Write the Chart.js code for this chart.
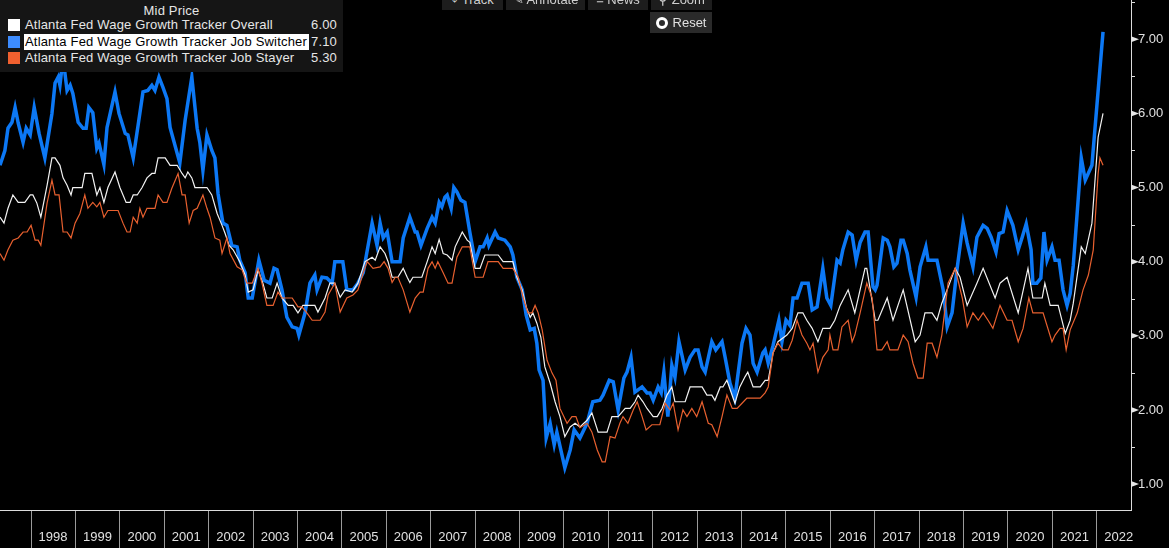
<!DOCTYPE html>
<html>
<head>
<meta charset="utf-8">
<script src="https://cdn.jsdelivr.net/npm/chart.js@4.4.1/dist/chart.umd.min.js"></script>
<style>
  body { margin: 0; background: #000; font-family: "Liberation Sans", Arial, sans-serif; }
  #wrap { position: relative; width: 1169px; height: 548px; overflow: hidden; background: #000; }
  #grafica { position: absolute; left: 0; top: 0; }
  #leyenda { position: absolute; left: 0; top: 0; width: 343px; height: 72px; background: #151515; color: #e6e6e6; font-size: 13px; letter-spacing: 0.18px; }
  #leyenda .titulo { position: absolute; left: 0; width: 343px; top: 3px; text-align: center; }
  #leyenda .fila { position: absolute; left: 0; width: 343px; height: 16px; line-height: 16px; }
  #leyenda .cuadro { position: absolute; left: 8px; top: 2px; width: 12px; height: 12px; }
  #leyenda .nombre { position: absolute; left: 24px; padding-left: 1px; }
  #leyenda .valor { position: absolute; right: 6px; }
  #leyenda .activa .nombre { background: #fff; color: #000; padding-right: 2px; }
  .boton { position: absolute; height: 20px; line-height: 20px; background: #1d1d1d; color: #cfcfcf; font-size: 13px; text-align: center; }
</style>
</head>
<body>
<div id="wrap">
  <canvas id="grafica" width="1169" height="548"></canvas>
  <div class="boton" style="left:442px; top:-10px; width:61px;">&#8982; Track</div>
  <div class="boton" style="left:506px; top:-10px; width:79px;">&#9998; Annotate</div>
  <div class="boton" style="left:588px; top:-10px; width:60px;">&#8801; News</div>
  <div class="boton" style="left:651px; top:-10px; width:61px;">&#9906; Zoom</div>
  <div class="boton" style="left:650px; top:12px; width:62px; height:21px; line-height:21px; background:#2a2a2a; color:#e0e0e0;">
    <span style="display:inline-block; width:6px; height:6px; border:3px solid #fff; border-radius:50%; vertical-align:-2px; margin-right:5px;"></span>Reset
  </div>
  <div id="leyenda">
    <div class="titulo">Mid Price</div>
    <div class="fila" style="top:17px;"><div class="cuadro" style="background:#ffffff"></div><span class="nombre">Atlanta Fed Wage Growth Tracker Overall</span><span class="valor">6.00</span></div>
    <div class="fila activa" style="top:34px;"><div class="cuadro" style="background:#3d8cff"></div><span class="nombre">Atlanta Fed Wage Growth Tracker Job Switcher</span><span class="valor">7.10</span></div>
    <div class="fila" style="top:50px;"><div class="cuadro" style="background:#f0602f"></div><span class="nombre">Atlanta Fed Wage Growth Tracker Job Stayer</span><span class="valor">5.30</span></div>
  </div>
</div>
<script>
// Años (decimales) y valores
const anios = [1998,1999,2000,2001,2002,2003,2004,2005,2006,2007,2008,2009,2010,2011,2012,2013,2014,2015,2016,2017,2018,2019,2020,2021,2022];
const valoresEjeY = [1,2,3,4,5,6,7];
const marcasMenores = [1.5,2.5,3.5,4.5,5.5,6.5,7.5];

const switcherFechas = [1997.30,1997.41,1997.48,1997.57,1997.64,1997.71,1997.82,1997.89,1997.98,1998.07,1998.18,1998.31,1998.47,1998.54,1998.61,1998.65,1998.72,1998.81,1998.88,1998.94,
  1999.06,1999.17,1999.24,1999.30,1999.39,1999.48,1999.53,1999.64,1999.71,1999.89,1999.98,2000.12,2000.18,2000.30,2000.41,2000.52,2000.63,2000.72,2000.79,2000.88,2000.97,
  2001.06,2001.13,2001.24,2001.35,2001.47,2001.62,2001.74,2001.80,2001.87,2001.96,2002.07,2002.14,2002.21,2002.32,2002.41,2002.52,2002.64,2002.70,2002.82,2002.89,2002.98,
  2003.13,2003.25,2003.38,2003.47,2003.54,2003.65,2003.76,2003.88,2003.99,2004.03,2004.17,2004.28,2004.39,2004.44,2004.55,2004.66,2004.78,2004.84,2005.02,2005.11,2005.25,
  2005.36,2005.48,2005.68,2005.79,2005.86,2005.93,2006.02,2006.13,2006.31,2006.38,2006.53,2006.65,2006.69,2006.78,2006.92,2007.03,2007.10,2007.19,2007.25,2007.32,2007.37,
  2007.46,2007.52,2007.59,2007.68,2007.77,2007.88,2008.00,2008.11,2008.18,2008.27,2008.31,2008.45,2008.52,2008.67,2008.79,2008.85,2008.94,2009.06,2009.15,2009.24,2009.33,
  2009.39,2009.44,2009.53,2009.60,2009.69,2009.78,2009.84,2010.02,2010.14,2010.23,2010.36,2010.52,2010.65,2010.81,2010.88,2011.02,2011.11,2011.22,2011.35,2011.42,2011.51,
  2011.60,2011.76,2011.87,2011.94,2012.01,2012.12,2012.19,2012.25,2012.34,2012.43,2012.50,2012.59,2012.73,2012.84,2012.95,2013.02,2013.11,2013.18,2013.33,2013.42,2013.56,
  2013.63,2013.74,2013.85,2014.01,2014.10,2014.19,2014.26,2014.35,2014.48,2014.53,2014.60,2014.71,2014.84,2014.91,2015.00,2015.09,2015.16,2015.25,2015.36,2015.50,2015.59,
  2015.70,2015.83,2015.92,2016.01,2016.15,2016.22,2016.28,2016.40,2016.49,2016.58,2016.67,2016.78,2016.85,2016.96,2017.01,2017.05,2017.19,2017.28,2017.34,2017.43,2017.50,
  2017.59,2017.64,2017.73,2017.79,2017.93,2018.02,2018.15,2018.20,2018.31,2018.40,2018.54,2018.63,2018.74,2018.85,2018.99,2019.08,2019.21,2019.30,2019.44,2019.53,2019.62,
  2019.73,2019.80,2019.89,2019.98,2020.11,2020.23,2020.32,2020.41,2020.52,2020.56,2020.65,2020.74,2020.81,2020.88,2020.99,2021.06,2021.15,2021.24,2021.33,2021.40,2021.47,
  2021.65,2021.74,2021.89,2022.14];
const switcherValores = [5.30,5.50,5.80,5.88,6.08,5.87,5.61,5.80,5.71,6.08,5.73,5.40,6.00,6.41,6.49,6.38,6.75,6.31,6.38,6.27,
  5.88,5.80,5.80,6.08,6.01,5.53,5.60,5.31,5.81,6.29,6.00,5.73,5.71,5.40,5.84,6.29,6.31,6.38,6.31,6.49,6.35,
  6.20,5.81,5.57,5.33,5.91,6.49,5.80,5.61,5.23,5.71,5.50,5.40,4.92,4.52,4.49,4.22,4.20,4.02,3.85,3.51,3.51,
  4.02,3.75,3.71,3.91,3.89,3.62,3.25,3.12,3.10,3.01,3.31,3.71,3.82,3.62,3.79,3.78,3.71,4.00,4.00,3.62,3.62,
  3.71,3.85,4.52,4.22,4.52,4.32,4.40,4.00,4.00,4.32,4.60,4.40,4.40,4.22,4.45,4.60,4.52,4.80,4.74,4.87,4.90,
  4.72,5.00,4.94,4.83,4.80,4.40,4.00,4.20,4.20,4.32,4.22,4.40,4.32,4.29,4.20,4.09,3.79,3.62,3.28,3.08,3.10,
  2.90,2.54,2.40,1.62,1.82,1.53,1.70,1.22,1.46,1.73,1.62,1.82,2.11,2.13,2.20,2.40,2.38,2.00,2.43,2.51,2.71,
  2.24,2.31,2.23,2.23,2.13,2.31,2.23,2.51,1.91,2.60,2.44,2.92,2.54,2.71,2.81,2.81,2.58,2.51,2.92,2.81,2.92,
  2.71,2.36,2.16,2.90,3.10,3.01,2.63,2.51,2.77,2.81,2.63,2.87,3.21,2.92,3.21,3.14,3.51,3.51,3.71,3.71,3.35,
  3.39,3.91,3.51,3.41,4.02,3.98,4.16,4.40,4.36,4.02,4.26,4.40,4.40,3.66,3.62,3.68,4.32,4.29,4.20,3.93,3.98,
  4.29,4.29,4.11,3.89,3.52,3.93,4.20,4.02,4.02,4.02,3.62,3.12,3.31,3.89,4.52,4.25,3.93,4.33,4.49,4.45,4.33,
  4.13,4.38,4.40,4.69,4.49,4.16,4.33,4.51,4.16,3.71,3.71,3.78,4.40,4.02,4.20,4.02,4.02,3.62,3.41,3.57,3.95,
  5.40,5.10,5.30,7.10];

const overallFechas = [1997.30,1997.39,1997.48,1997.59,1997.71,1997.86,1997.98,1998.04,1998.13,1998.22,1998.36,1998.47,1998.54,1998.65,1998.72,1998.81,1998.90,1998.94,1999.15,1999.21,
  1999.37,1999.48,1999.55,1999.64,1999.73,1999.89,2000.00,2000.14,2000.23,2000.30,2000.39,2000.50,2000.61,2000.72,2000.79,2000.86,2001.02,2001.13,2001.29,2001.40,2001.47,
  2001.53,2001.62,2001.69,2001.96,2002.07,2002.19,2002.30,2002.37,2002.46,2002.55,2002.70,2002.82,2002.89,2003.00,2003.11,2003.22,2003.31,2003.43,2003.54,2003.65,2003.79,
  2003.90,2004.01,2004.12,2004.39,2004.46,2004.62,2004.73,2004.84,2004.96,2005.07,2005.23,2005.36,2005.52,2005.68,2005.75,2005.86,2005.97,2006.04,2006.13,2006.26,2006.38,
  2006.47,2006.53,2006.60,2006.80,2006.92,2007.03,2007.10,2007.19,2007.28,2007.37,2007.48,2007.55,2007.71,2007.82,2007.88,2008.00,2008.11,2008.22,2008.52,2008.63,2008.85,
  2008.94,2009.06,2009.15,2009.24,2009.30,2009.39,2009.48,2009.57,2009.69,2009.80,2009.91,2010.02,2010.14,2010.25,2010.36,2010.52,2010.63,2010.77,2010.97,2011.08,2011.22,
  2011.38,2011.49,2011.60,2011.67,2011.78,2011.87,2012.01,2012.10,2012.21,2012.32,2012.43,2012.50,2012.73,2012.84,2013.11,2013.22,2013.33,2013.40,2013.52,2013.58,2013.67,
  2013.85,2013.96,2014.08,2014.14,2014.26,2014.42,2014.53,2014.60,2014.71,2014.82,2015.02,2015.14,2015.27,2015.38,2015.47,2015.59,2015.72,2015.83,2015.99,2016.10,2016.22,
  2016.40,2016.55,2016.78,2016.82,2017.01,2017.07,2017.28,2017.41,2017.64,2017.91,2018.02,2018.13,2018.29,2018.40,2018.51,2018.63,2018.81,2018.92,2019.08,2019.30,2019.44,
  2019.71,2019.82,2019.98,2020.23,2020.45,2020.56,2020.77,2020.83,2020.95,2021.13,2021.29,2021.40,2021.47,2021.65,2021.74,2021.89,2022.03,2022.14];
const overallValores = [4.60,4.52,4.72,4.90,4.80,4.80,4.90,4.90,4.79,4.60,5.03,5.40,5.40,5.30,5.13,5.03,4.90,5.00,5.00,5.19,
  5.19,4.90,5.00,4.80,5.00,5.21,5.00,4.80,4.80,4.90,4.90,5.00,5.13,5.19,5.19,5.40,5.40,5.30,5.30,5.19,5.13,
  5.21,5.13,5.00,5.00,4.90,4.65,4.49,4.38,4.22,4.16,4.00,3.82,3.59,3.62,3.89,3.71,3.51,3.51,3.71,3.51,3.41,
  3.41,3.31,3.41,3.41,3.32,3.51,3.71,3.71,3.52,3.62,3.59,3.71,4.00,4.06,4.02,4.20,4.11,4.00,3.79,3.79,3.91,
  3.79,3.72,3.79,3.79,4.00,4.20,4.11,4.30,4.11,4.09,4.02,4.20,4.40,4.29,4.26,3.91,3.91,4.09,4.09,4.00,4.00,
  3.79,3.62,3.39,3.25,3.31,3.17,2.98,2.58,2.36,2.11,1.91,1.64,1.77,1.82,1.77,1.86,1.96,1.70,1.70,1.91,1.91,
  2.02,2.02,2.11,2.20,2.11,2.02,1.91,1.91,2.02,2.20,2.31,2.11,2.11,2.31,2.31,2.20,2.20,2.13,2.31,2.31,2.40,
  2.09,2.31,2.45,2.51,2.31,2.31,2.40,2.40,2.77,2.92,3.01,3.10,3.31,3.31,3.21,3.10,2.92,3.10,3.10,3.21,3.41,
  3.62,3.31,3.91,3.91,3.21,3.21,3.51,3.21,3.62,2.92,3.01,3.31,3.31,3.21,3.44,3.62,3.91,3.79,3.41,3.71,3.91,
  3.51,3.71,3.79,3.31,3.91,3.51,3.51,3.71,3.41,3.41,3.03,3.21,3.44,4.20,4.11,4.52,5.68,6.00];

const stayerFechas = [1997.30,1997.39,1997.48,1997.59,1997.71,1997.82,1997.91,1998.00,1998.09,1998.16,1998.22,1998.36,1998.47,1998.54,1998.63,1998.72,1998.81,1998.90,1998.99,1999.10,
  1999.21,1999.28,1999.39,1999.48,1999.55,1999.64,1999.73,1999.96,2000.07,2000.16,2000.23,2000.30,2000.39,2000.45,2000.52,2000.61,2000.79,2000.86,2000.97,2001.06,2001.17,
  2001.31,2001.40,2001.47,2001.56,2001.65,2001.74,2001.87,2001.96,2002.03,2002.14,2002.25,2002.30,2002.41,2002.48,2002.64,2002.75,2002.86,2002.98,2003.11,2003.20,2003.31,
  2003.45,2003.56,2003.65,2003.88,2004.01,2004.10,2004.21,2004.33,2004.51,2004.62,2004.69,2004.84,2004.96,2005.11,2005.25,2005.36,2005.48,2005.57,2005.70,2005.86,2005.95,
  2006.04,2006.13,2006.20,2006.26,2006.38,2006.53,2006.65,2006.76,2006.83,2006.94,2007.03,2007.10,2007.16,2007.28,2007.39,2007.48,2007.59,2007.71,2007.88,2008.00,2008.18,
  2008.29,2008.52,2008.63,2008.85,2008.97,2009.08,2009.19,2009.28,2009.35,2009.42,2009.51,2009.62,2009.73,2009.82,2009.91,2010.07,2010.18,2010.27,2010.36,2010.52,2010.63,
  2010.75,2010.86,2010.93,2011.04,2011.15,2011.26,2011.33,2011.44,2011.56,2011.65,2011.76,2011.85,2011.98,2012.16,2012.28,2012.39,2012.46,2012.57,2012.68,2012.77,2012.88,
  2012.99,2013.11,2013.25,2013.33,2013.45,2013.56,2013.67,2013.79,2013.90,2014.01,2014.12,2014.30,2014.42,2014.53,2014.60,2014.71,2014.82,2014.93,2015.05,2015.14,2015.25,
  2015.36,2015.47,2015.54,2015.61,2015.72,2015.83,2015.95,2015.99,2016.06,2016.17,2016.26,2016.40,2016.49,2016.55,2016.67,2016.82,2016.94,2017.05,2017.16,2017.28,2017.34,
  2017.52,2017.64,2017.75,2017.86,2017.97,2018.09,2018.18,2018.29,2018.40,2018.51,2018.65,2018.81,2018.97,2019.08,2019.21,2019.33,2019.44,2019.55,2019.66,2019.82,2019.98,
  2020.09,2020.23,2020.34,2020.47,2020.56,2020.79,2020.99,2021.06,2021.17,2021.24,2021.31,2021.40,2021.56,2021.69,2021.81,2021.92,2022.03,2022.07,2022.14];
const stayerValores = [4.11,4.02,4.16,4.29,4.32,4.40,4.40,4.49,4.29,4.29,4.22,4.79,5.10,4.90,4.90,4.40,4.40,4.32,4.52,4.65,
  4.90,4.72,4.80,4.74,4.80,4.60,4.69,4.69,4.52,4.40,4.40,4.60,4.52,4.72,4.60,4.72,4.72,4.90,4.80,4.80,4.99,
  5.19,4.90,4.90,4.52,4.69,4.72,4.90,4.72,4.60,4.32,4.29,4.11,4.32,4.11,3.93,3.89,3.71,3.71,3.91,3.71,3.41,
  3.41,3.59,3.51,3.51,3.39,3.39,3.31,3.21,3.21,3.32,3.55,3.71,3.32,3.51,3.55,3.62,3.85,4.00,3.91,3.93,4.00,
  3.91,3.72,3.79,3.79,3.62,3.32,3.51,3.59,3.59,3.91,4.00,3.91,4.00,3.85,3.71,3.71,4.06,4.20,4.20,3.79,3.79,
  4.00,4.00,3.91,3.91,3.79,3.52,3.31,3.31,3.41,3.31,3.08,2.67,2.50,2.40,2.02,1.82,1.91,1.91,1.76,1.82,1.70,
  1.46,1.30,1.30,1.64,1.62,1.82,1.91,1.82,2.00,2.11,1.91,1.73,1.80,1.80,2.09,2.00,2.09,1.73,2.00,1.91,2.02,
  1.91,2.11,1.82,1.80,1.64,1.91,2.20,2.02,2.02,2.09,2.16,2.16,2.16,2.23,2.31,2.77,2.90,2.81,2.81,2.94,3.21,
  3.01,2.90,2.81,2.90,2.51,2.71,2.81,3.01,2.81,2.81,3.12,3.21,2.92,3.01,3.31,3.71,3.51,2.81,2.81,2.92,2.81,
  2.81,3.01,2.92,2.63,2.43,2.43,2.90,2.90,2.71,3.01,3.71,3.91,3.51,3.12,3.31,3.21,3.31,3.21,3.10,3.41,3.21,
  3.21,2.92,3.10,3.51,3.31,3.31,2.92,3.01,3.10,3.10,2.81,3.08,3.31,3.62,3.82,4.16,5.19,5.40,5.30];

function puntos(fechas, valores) {
    return fechas.map((f, i) => ({ x: f, y: valores[i] }));
}

// Triangulos en los enteros y marcas cortas en los medios del eje derecho
const marcasEje = {
    id: 'marcasEje',
    afterDraw(chart) {
        const eje = chart.scales.y;
        const ctx = chart.ctx;
        ctx.save();
        ctx.fillStyle = '#e6e6e6';
        valoresEjeY.forEach(v => {
            const py = eje.getPixelForValue(v);
            ctx.beginPath();
            ctx.moveTo(eje.left, py - 3);
            ctx.lineTo(eje.left + 8, py);
            ctx.lineTo(eje.left, py + 3);
            ctx.closePath();
            ctx.fill();
        });
        ctx.strokeStyle = '#dcdcdc';
        ctx.lineWidth = 1;
        marcasMenores.forEach(v => {
            const py = Math.round(eje.getPixelForValue(v)) + 0.5;
            ctx.beginPath();
            ctx.moveTo(eje.left, py);
            ctx.lineTo(eje.left + 4, py);
            ctx.stroke();
        });
        ctx.restore();
    }
};

const ctx = document.getElementById('grafica').getContext('2d');
const grafica = new Chart(ctx, {
    type: 'line',
    data: {
        datasets: [
            { label: 'Atlanta Fed Wage Growth Tracker Job Stayer', data: puntos(stayerFechas, stayerValores),
              borderColor: '#e8602f', borderWidth: 1.2, pointRadius: 0, tension: 0 },
            { label: 'Atlanta Fed Wage Growth Tracker Overall', data: puntos(overallFechas, overallValores),
              borderColor: '#f2f2f2', borderWidth: 1.2, pointRadius: 0, tension: 0 },
            { label: 'Atlanta Fed Wage Growth Tracker Job Switcher', data: puntos(switcherFechas, switcherValores),
              borderColor: '#0c78f5', borderWidth: 3.5, pointRadius: 0, tension: 0 }
        ]
    },
    options: {
        responsive: false,
        animation: false,
        devicePixelRatio: 1,
        layout: { padding: 0 },
        plugins: { legend: { display: false }, tooltip: { enabled: false } },
        scales: {
            x: {
                type: 'linear',
                min: 1997.30,
                max: 2022.77,
                afterBuildTicks: (eje) => { eje.ticks = anios.map(a => ({ value: a })); },
                afterFit: (eje) => { eje.height = 38; eje.paddingLeft = 0; eje.paddingRight = 0; },
                border: { display: true, color: '#dcdcdc', width: 1 },
                grid: { drawOnChartArea: false, drawTicks: true, tickLength: 38, color: '#9a9a9a', lineWidth: 1 },
                ticks: {
                    autoSkip: false, maxRotation: 0, padding: -18, labelOffset: 22,
                    color: '#e0e0e0', font: { family: 'Liberation Sans', size: 13 },
                    callback: (v) => String(v)
                }
            },
            y: {
                position: 'right',
                min: 0.65,
                max: 7.53,
                afterBuildTicks: (eje) => { eje.ticks = valoresEjeY.map(v => ({ value: v })); },
                // sin relleno extra arriba/abajo, para que el área llegue al borde superior
                afterFit: (eje) => { eje.width = 38; eje.paddingTop = 0; eje.paddingBottom = 0; },
                border: { display: true, color: '#dcdcdc', width: 1 },
                grid: { drawOnChartArea: false, drawTicks: true, tickLength: 4, color: 'rgba(0,0,0,0)' },
                ticks: {
                    padding: 3, color: '#e0e0e0', font: { family: 'Liberation Sans', size: 13 },
                    callback: (v) => v.toFixed(2)
                }
            }
        }
    },
    plugins: [marcasEje]
});
</script>
</body>
</html>
